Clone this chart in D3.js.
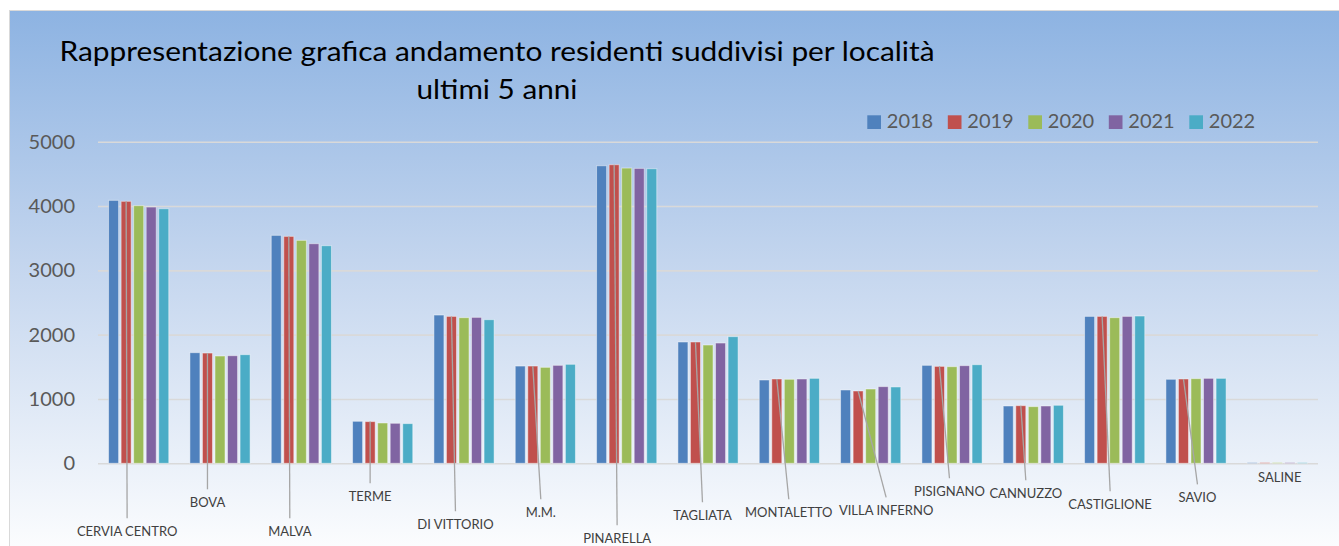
<!DOCTYPE html>
<html>
<head>
<meta charset="utf-8">
<script src="https://d3js.org/d3.v7.min.js"></script>
<style>
  body { margin: 0; background: #ffffff; }
  svg { display: block; }
</style>
</head>
<body>
<div id="svg-area"></div>
<script>
// Data
var categories = ["CERVIA CENTRO", "BOVA", "MALVA", "TERME", "DI VITTORIO", "M.M.", "PINARELLA",
  "TAGLIATA", "MONTALETTO", "VILLA INFERNO", "PISIGNANO", "CANNUZZO", "CASTIGLIONE", "SAVIO", "SALINE"];
var years = ["2018", "2019", "2020", "2021", "2022"];
var res2018 = [4088, 1720, 3544, 653, 2305, 1512, 4626, 1886, 1295, 1140, 1523, 891, 2284, 1306, 10];
var res2019 = [4073, 1714, 3528, 648, 2284, 1512, 4642, 1886, 1311, 1124, 1507, 896, 2284, 1311, 10];
var res2020 = [4005, 1668, 3466, 627, 2264, 1492, 4590, 1839, 1306, 1155, 1502, 881, 2264, 1316, 10];
var res2021 = [3984, 1673, 3414, 622, 2269, 1523, 4585, 1870, 1311, 1192, 1518, 891, 2284, 1321, 10];
var res2022 = [3958, 1689, 3383, 617, 2233, 1539, 4580, 1969, 1321, 1187, 1533, 902, 2290, 1321, 10];
var yTicks = [0, 1000, 2000, 3000, 4000, 5000];

// label layout (offset from the 2019 bar, drop below the zero line)
var labelDx = [1, 0, 1, 0, 4, 8, 3, 7, 12, 28, 10, 5, 8, 14, 15];
var labelDrop = [73, 44, 73, 38, 66, 54, 80, 57, 54, 52, 33, 35, 46, 39, 19];

var series = [res2018, res2019, res2020, res2021, res2022];
var colors = ["#4F81BD", "#C0504D", "#9BBB59", "#8064A2", "#4BACC6"];

var svgWidth = 1339;
var svgHeight = 546;
var plot = { left: 98, right: 1318, top: 141.7, bottom: 463.3 };

var svg = d3.select("#svg-area")
  .append("svg")
  .attr("width", svgWidth)
  .attr("height", svgHeight);

// background gradient
var grad = svg.append("defs").append("linearGradient")
  .attr("id", "bg")
  .attr("x1", 0).attr("y1", 0).attr("x2", 0).attr("y2", 1);
grad.append("stop").attr("offset", "0%").attr("stop-color", "#8DB3E2");
grad.append("stop").attr("offset", "45%").attr("stop-color", "#C3D5EE");
grad.append("stop").attr("offset", "100%").attr("stop-color", "#FFFFFF");

svg.append("rect")
  .attr("x", 9.5).attr("y", 10.5)
  .attr("width", svgWidth + 10).attr("height", svgHeight + 10)
  .attr("fill", "url(#bg)")
  .attr("stroke", "#D9D9D9")
  .attr("stroke-width", 1);

// Scales
var x0 = d3.scaleBand()
  .domain(categories)
  .range([plot.left, plot.right])
  .paddingInner(0.26)
  .paddingOuter(0.13);

var x1 = d3.scaleBand()
  .domain(years)
  .range([0, x0.bandwidth()])
  .paddingInner(0.2);

var y = d3.scaleLinear()
  .domain([0, 5000])
  .range([plot.bottom, plot.top]);

// gridlines + y labels
var yAxis = d3.axisLeft(y)
  .tickValues(yTicks)
  .tickFormat(d3.format("d"))
  .tickSize(-(plot.right - plot.left))
  .tickPadding(23);

var yg = svg.append("g")
  .attr("transform", `translate(${plot.left}, 0)`)
  .call(yAxis);
yg.select(".domain").remove();
yg.selectAll(".tick line")
  .attr("stroke", "#D9D9D9")
  .attr("stroke-width", 1.6);
yg.selectAll(".tick text")
  .attr("fill", "#595959")
  .style("font-family", "Lato, sans-serif")
  .style("font-size", "20px");

// Bars
var groups = svg.selectAll("g.cat")
  .data(categories)
  .enter()
  .append("g")
  .attr("class", "cat")
  .attr("transform", d => `translate(${x0(d)}, 0)`);

groups.selectAll("rect")
  .data((d, i) => years.map((yr, j) => ({ year: yr, value: series[j][i], color: colors[j] })))
  .enter()
  .append("rect")
  .attr("x", d => x1(d.year))
  .attr("y", d => y(d.value))
  .attr("width", x1.bandwidth())
  .attr("height", d => y(0) - y(d.value))
  .attr("fill", d => d.color)
  .attr("stroke", "rgba(255,255,255,0.45)")
  .attr("stroke-width", 1);

// leader lines and category labels
categories.forEach(function(cat, i) {
  var bx = x0(cat) + x1("2019") + x1.bandwidth() / 2;
  var lx = bx + labelDx[i];
  var ly = y(0) + labelDrop[i];
  if (cat !== "SALINE") {
    svg.append("line")
      .attr("x1", bx)
      .attr("y1", y(res2019[i]))
      .attr("x2", lx)
      .attr("y2", ly - 18)
      .attr("stroke", "#A6A6A6")
      .attr("stroke-width", 1.3);
  }
  svg.append("text")
    .attr("x", lx)
    .attr("y", ly)
    .attr("text-anchor", "middle")
    .attr("fill", "#404040")
    .style("font-family", "Lato, sans-serif")
    .style("font-size", "13px")
    .text(cat);
});

// Title
svg.append("text")
  .attr("x", 497)
  .attr("y", 61)
  .attr("text-anchor", "middle")
  .attr("textLength", 875)
  .attr("lengthAdjust", "spacingAndGlyphs")
  .style("font-family", "Lato, sans-serif")
  .style("font-size", "27px")
  .attr("fill", "#000000")
  .text("Rappresentazione grafica andamento residenti suddivisi per località");

svg.append("text")
  .attr("x", 497)
  .attr("y", 99)
  .attr("text-anchor", "middle")
  .attr("textLength", 161)
  .attr("lengthAdjust", "spacingAndGlyphs")
  .style("font-family", "Lato, sans-serif")
  .style("font-size", "27px")
  .attr("fill", "#000000")
  .text("ultimi 5 anni");

// Legend
var legend = svg.selectAll("g.legend")
  .data(years)
  .enter()
  .append("g")
  .attr("class", "legend")
  .attr("transform", (d, i) => `translate(${867.3 + i * 80.5}, 115.3)`);

legend.append("rect")
  .attr("width", 13.7)
  .attr("height", 13.7)
  .attr("fill", (d, i) => colors[i]);

legend.append("text")
  .attr("x", 19.5)
  .attr("y", 12.5)
  .attr("fill", "#595959")
  .style("font-family", "Lato, sans-serif")
  .style("font-size", "20px")
  .text(d => d);
</script>
</body>
</html>
